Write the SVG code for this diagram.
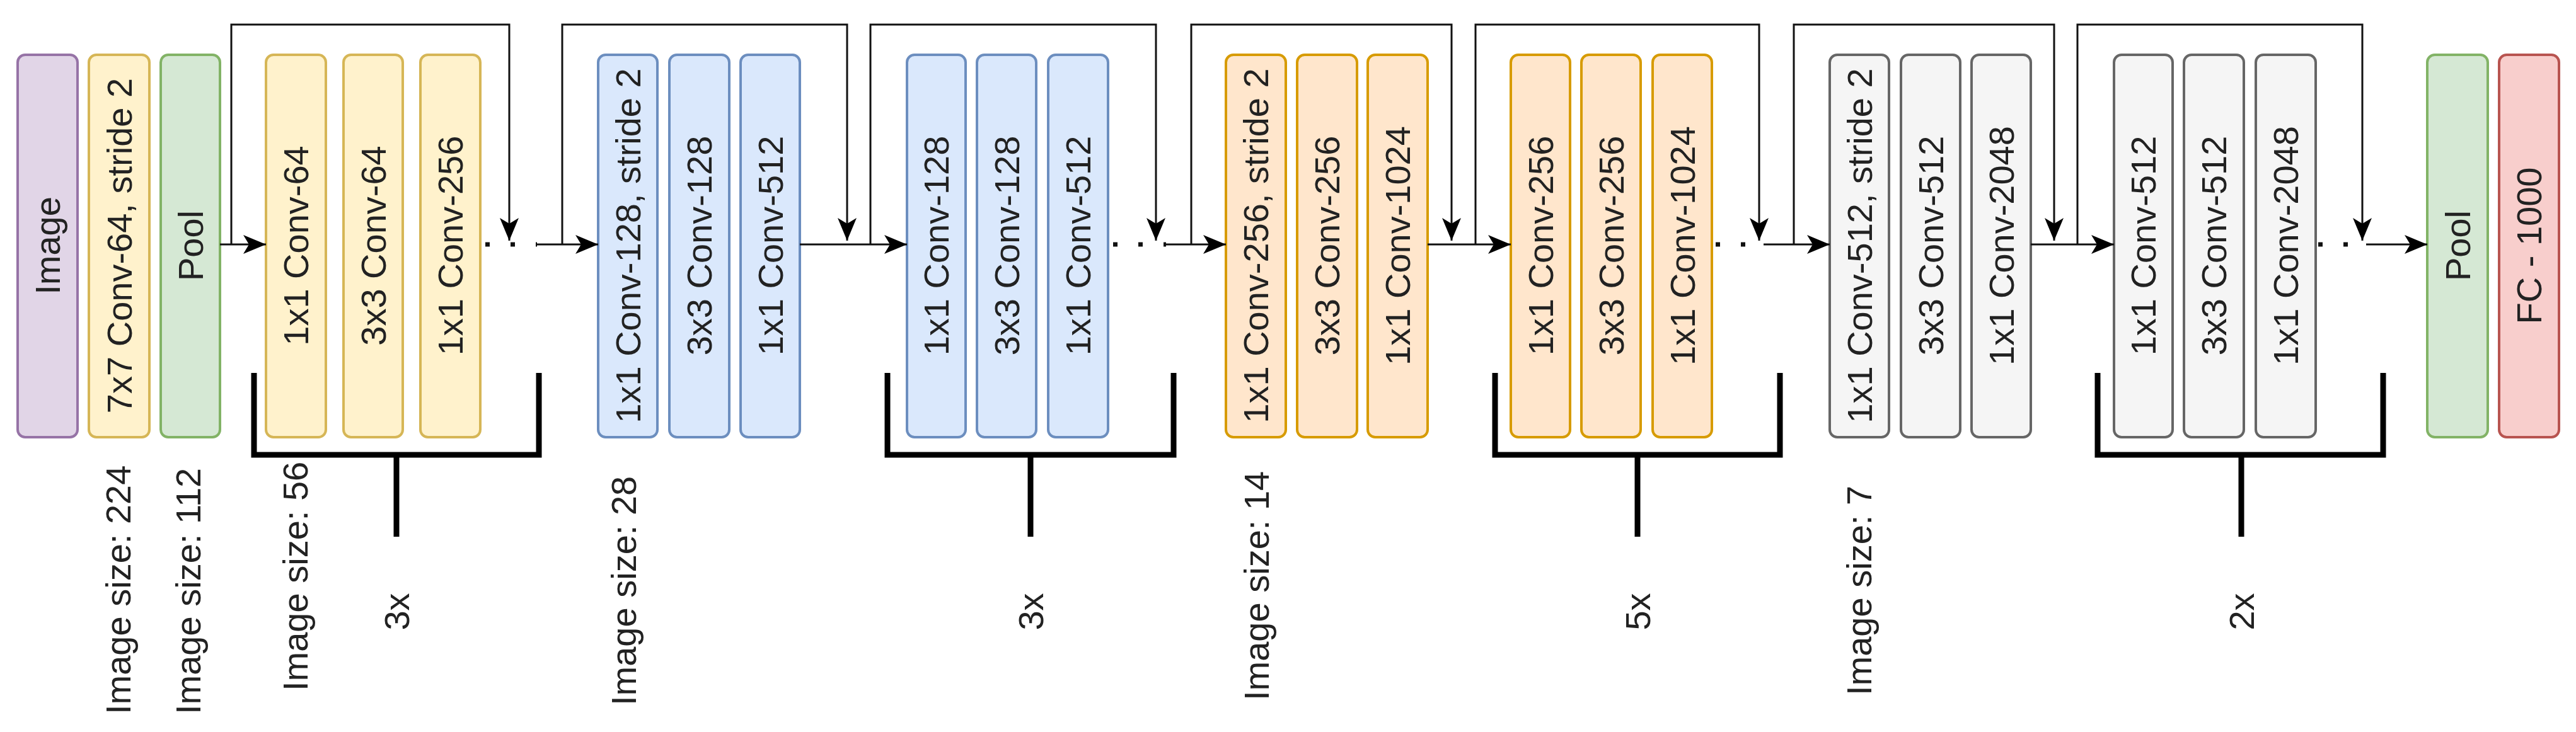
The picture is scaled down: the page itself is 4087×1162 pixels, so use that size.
<svg xmlns="http://www.w3.org/2000/svg" width="4087" height="1162" viewBox="0 0 4087 1162">
<style>
text{font-family:"Liberation Sans",Arial,sans-serif;font-size:56px;fill:#222}
.b{stroke-width:4}
.pu{fill:#e1d5e7;stroke:#9673a6}.ye{fill:#fff2cc;stroke:#d6b656}.gr{fill:#d5e8d4;stroke:#82b366}
.bl{fill:#dae8fc;stroke:#6c8ebf}.or{fill:#ffe6cc;stroke:#d79b00}.gy{fill:#f5f5f5;stroke:#666666}.rd{fill:#f8cecc;stroke:#b85450}
.c{fill:none;stroke:#111;stroke-width:3}
.d{fill:none;stroke:#111;stroke-width:7;stroke-dasharray:7 33}
.k{fill:none;stroke:#000;stroke-width:9}
</style>
<defs>
<marker id="a" markerUnits="userSpaceOnUse" markerWidth="40" markerHeight="32" refX="36" refY="15" orient="auto"><path d="M0,0 L36,15 L0,30 L9,15 z" fill="#000"/></marker>
</defs>
<g id="nodes">
<g id="n-image"><rect class="b pu" x="28" y="87" width="95" height="607" rx="12"/><text transform="translate(75.5,390) rotate(-90)" text-anchor="middle" dominant-baseline="central">Image</text></g>
<g id="n-conv7"><rect class="b ye" x="141" y="87" width="96" height="607" rx="12"/><text transform="translate(189,390) rotate(-90)" text-anchor="middle" dominant-baseline="central">7x7 Conv-64, stride 2</text></g>
<g id="n-pool1"><rect class="b gr" x="255" y="87" width="94" height="607" rx="12"/><text transform="translate(302,390) rotate(-90)" text-anchor="middle" dominant-baseline="central">Pool</text></g>
<g id="n-s1a"><rect class="b ye" x="422" y="87" width="95" height="607" rx="12"/><text transform="translate(469.5,390) rotate(-90)" text-anchor="middle" dominant-baseline="central">1x1 Conv-64</text></g>
<g id="n-s1b"><rect class="b ye" x="545" y="87" width="94" height="607" rx="12"/><text transform="translate(592,390) rotate(-90)" text-anchor="middle" dominant-baseline="central">3x3 Conv-64</text></g>
<g id="n-s1c"><rect class="b ye" x="667" y="87" width="95" height="607" rx="12"/><text transform="translate(714.5,390) rotate(-90)" text-anchor="middle" dominant-baseline="central">1x1 Conv-256</text></g>
<g id="n-s2a"><rect class="b bl" x="949" y="87" width="94" height="607" rx="12"/><text transform="translate(996,390) rotate(-90)" text-anchor="middle" dominant-baseline="central">1x1 Conv-128, stride 2</text></g>
<g id="n-s2b"><rect class="b bl" x="1062" y="87" width="95" height="607" rx="12"/><text transform="translate(1109.5,390) rotate(-90)" text-anchor="middle" dominant-baseline="central">3x3 Conv-128</text></g>
<g id="n-s2c"><rect class="b bl" x="1175" y="87" width="94" height="607" rx="12"/><text transform="translate(1222,390) rotate(-90)" text-anchor="middle" dominant-baseline="central">1x1 Conv-512</text></g>
<g id="n-s3a"><rect class="b bl" x="1439" y="87" width="93" height="607" rx="12"/><text transform="translate(1485.5,390) rotate(-90)" text-anchor="middle" dominant-baseline="central">1x1 Conv-128</text></g>
<g id="n-s3b"><rect class="b bl" x="1550" y="87" width="94" height="607" rx="12"/><text transform="translate(1597,390) rotate(-90)" text-anchor="middle" dominant-baseline="central">3x3 Conv-128</text></g>
<g id="n-s3c"><rect class="b bl" x="1663" y="87" width="95" height="607" rx="12"/><text transform="translate(1710.5,390) rotate(-90)" text-anchor="middle" dominant-baseline="central">1x1 Conv-512</text></g>
<g id="n-s4a"><rect class="b or" x="1945" y="87" width="95" height="607" rx="12"/><text transform="translate(1992.5,390) rotate(-90)" text-anchor="middle" dominant-baseline="central">1x1 Conv-256, stride 2</text></g>
<g id="n-s4b"><rect class="b or" x="2058" y="87" width="95" height="607" rx="12"/><text transform="translate(2105.5,390) rotate(-90)" text-anchor="middle" dominant-baseline="central">3x3 Conv-256</text></g>
<g id="n-s4c"><rect class="b or" x="2170" y="87" width="95" height="607" rx="12"/><text transform="translate(2217.5,390) rotate(-90)" text-anchor="middle" dominant-baseline="central">1x1 Conv-1024</text></g>
<g id="n-s5a"><rect class="b or" x="2397" y="87" width="94" height="607" rx="12"/><text transform="translate(2444,390) rotate(-90)" text-anchor="middle" dominant-baseline="central">1x1 Conv-256</text></g>
<g id="n-s5b"><rect class="b or" x="2509" y="87" width="94" height="607" rx="12"/><text transform="translate(2556,390) rotate(-90)" text-anchor="middle" dominant-baseline="central">3x3 Conv-256</text></g>
<g id="n-s5c"><rect class="b or" x="2622" y="87" width="94" height="607" rx="12"/><text transform="translate(2669,390) rotate(-90)" text-anchor="middle" dominant-baseline="central">1x1 Conv-1024</text></g>
<g id="n-s6a"><rect class="b gy" x="2903" y="87" width="94" height="607" rx="12"/><text transform="translate(2950,390) rotate(-90)" text-anchor="middle" dominant-baseline="central">1x1 Conv-512, stride 2</text></g>
<g id="n-s6b"><rect class="b gy" x="3016" y="87" width="94" height="607" rx="12"/><text transform="translate(3063,390) rotate(-90)" text-anchor="middle" dominant-baseline="central">3x3 Conv-512</text></g>
<g id="n-s6c"><rect class="b gy" x="3128" y="87" width="94" height="607" rx="12"/><text transform="translate(3175,390) rotate(-90)" text-anchor="middle" dominant-baseline="central">1x1 Conv-2048</text></g>
<g id="n-s7a"><rect class="b gy" x="3354" y="87" width="93" height="607" rx="12"/><text transform="translate(3400.5,390) rotate(-90)" text-anchor="middle" dominant-baseline="central">1x1 Conv-512</text></g>
<g id="n-s7b"><rect class="b gy" x="3465" y="87" width="95" height="607" rx="12"/><text transform="translate(3512.5,390) rotate(-90)" text-anchor="middle" dominant-baseline="central">3x3 Conv-512</text></g>
<g id="n-s7c"><rect class="b gy" x="3579" y="87" width="95" height="607" rx="12"/><text transform="translate(3626.5,390) rotate(-90)" text-anchor="middle" dominant-baseline="central">1x1 Conv-2048</text></g>
<g id="n-pool2"><rect class="b gr" x="3851" y="87" width="96" height="607" rx="12"/><text transform="translate(3899,390) rotate(-90)" text-anchor="middle" dominant-baseline="central">Pool</text></g>
<g id="n-fc"><rect class="b rd" x="3965" y="87" width="95" height="607" rx="12"/><text transform="translate(4012.5,390) rotate(-90)" text-anchor="middle" dominant-baseline="central">FC - 1000</text></g>
</g>
<g id="connectors">
<path class="c" d="M349,388 H422" marker-end="url(#a)"/>
<path class="c" d="M367,388 V39 H808 V382" marker-end="url(#a)"/>
<path class="d" d="M770,388 H852"/>
<path class="c" d="M850,388 H949" marker-end="url(#a)"/>
<path class="c" d="M892,388 V39 H1344 V382" marker-end="url(#a)"/>
<path class="c" d="M1269,388 H1439" marker-end="url(#a)"/>
<path class="c" d="M1381,388 V39 H1834 V382" marker-end="url(#a)"/>
<path class="d" d="M1766,388 H1850"/>
<path class="c" d="M1849,388 H1945" marker-end="url(#a)"/>
<path class="c" d="M1890,388 V39 H2303 V382" marker-end="url(#a)"/>
<path class="c" d="M2265,388 H2397" marker-end="url(#a)"/>
<path class="c" d="M2341,388 V39 H2791 V382" marker-end="url(#a)"/>
<path class="d" d="M2722,388 H2800"/>
<path class="c" d="M2798,388 H2903" marker-end="url(#a)"/>
<path class="c" d="M2846,388 V39 H3259 V382" marker-end="url(#a)"/>
<path class="c" d="M3222,388 H3354" marker-end="url(#a)"/>
<path class="c" d="M3296,388 V39 H3748 V382" marker-end="url(#a)"/>
<path class="d" d="M3678,388 H3756"/>
<path class="c" d="M3754,388 H3851" marker-end="url(#a)"/>
<path class="k" d="M403,592 V722 H855 V592 M629,722 V852"/>
<path class="k" d="M1408,592 V722 H1862 V592 M1635,722 V852"/>
<path class="k" d="M2372,592 V722 H2824 V592 M2598,722 V852"/>
<path class="k" d="M3328,592 V722 H3781 V592 M3556,722 V852"/>
</g>
<g id="labels">
<text transform="translate(187,1134) rotate(-90)" dominant-baseline="central">Image size: 224</text>
<text transform="translate(298,1134) rotate(-90)" dominant-baseline="central">Image size: 112</text>
<text transform="translate(468,1097) rotate(-90)" dominant-baseline="central">Image size: 56</text>
<text transform="translate(989,1120) rotate(-90)" dominant-baseline="central">Image size: 28</text>
<text transform="translate(1993,1112) rotate(-90)" dominant-baseline="central">Image size: 14</text>
<text transform="translate(2949,1104) rotate(-90)" dominant-baseline="central">Image size: 7</text>
<text transform="translate(629,971) rotate(-90)" text-anchor="middle" dominant-baseline="central">3x</text>
<text transform="translate(1635,971) rotate(-90)" text-anchor="middle" dominant-baseline="central">3x</text>
<text transform="translate(2598,971) rotate(-90)" text-anchor="middle" dominant-baseline="central">5x</text>
<text transform="translate(3556,971) rotate(-90)" text-anchor="middle" dominant-baseline="central">2x</text>
</g>
</svg>
